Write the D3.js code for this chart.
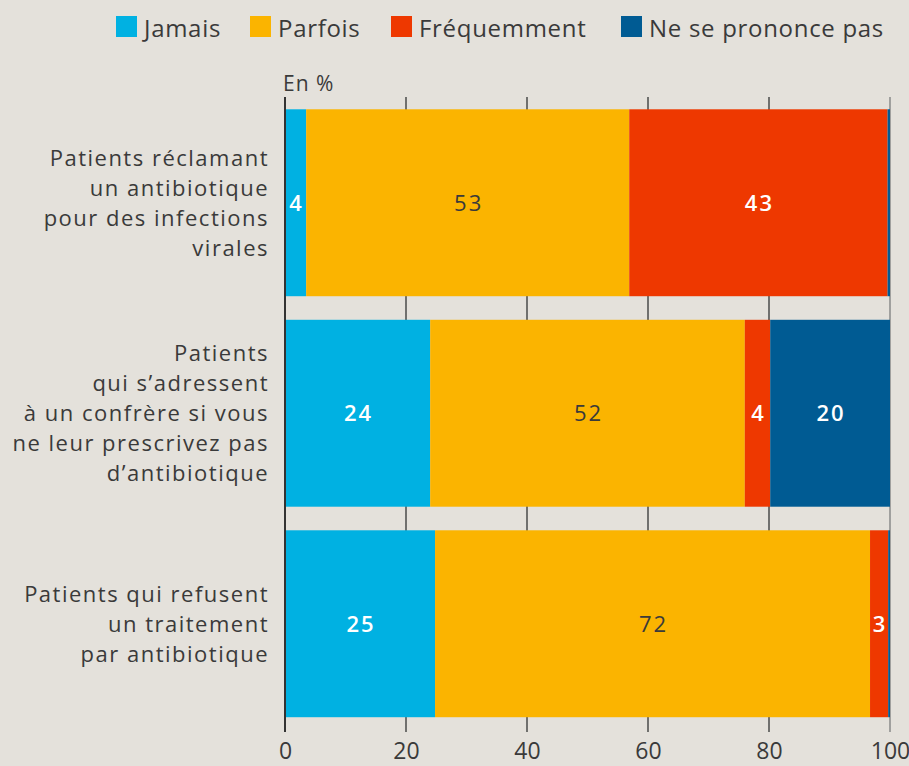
<!DOCTYPE html>
<html lang="fr">
<head>
<meta charset="utf-8">
<script src="https://cdn.jsdelivr.net/npm/d3@7"></script>
<style>
  html, body { margin: 0; padding: 0; background: #e4e1db; }
  svg { display: block; font-family: "Open Sans", "Lato", sans-serif; }
</style>
</head>
<body>
<svg id="chart" width="909" height="766"></svg>
<script>
// Catégories (une ligne par barre, découpées en lignes de texte)
const categories = [
    ["Patients réclamant", "un antibiotique", "pour des infections", "virales"],
    ["Patients", "qui s’adressent", "à un confrère si vous", "ne leur prescrivez pas", "d’antibiotique"],
    ["Patients qui refusent", "un traitement", "par antibiotique"]
];

// Séries (en %)
const seriesNames = ["Jamais", "Parfois", "Fréquemment", "Ne se prononce pas"];
const jamais      = [3.5, 24, 24.8];
const parfois     = [53.4, 52, 71.9];
const frequemment = [42.7, 4.2, 3.0];
const nsp         = [0.4, 19.8, 0.3];

// Étiquettes affichées dans les barres
const valueLabels = [
    ["4", "53", "43", ""],
    ["24", "52", "4", "20"],
    ["25", "72", "3", ""]
];

const xTicks = [0, 20, 40, 60, 80, 100];
const colors = ["#00b1e2", "#fbb400", "#ee3800", "#005b93"];
const labelColors = ["#ffffff", "#3a3a3a", "#ffffff", "#ffffff"];

// Tableau pour d3.stack
const rows = categories.map((c, i) => ({
    idx: i,
    "Jamais": jamais[i],
    "Parfois": parfois[i],
    "Fréquemment": frequemment[i],
    "Ne se prononce pas": nsp[i]
}));

const svg = d3.select("#chart");

const x = d3.scaleLinear().domain([0, 100]).range([285, 890]);
const y = d3.scaleBand()
    .domain(d3.range(categories.length))
    .range([97.5, 729])
    .paddingInner(0.112)
    .paddingOuter(0.056);

const stacked = d3.stack().keys(seriesNames)(rows);

// Lignes de grille (derrière les barres)
svg.append("g")
    .selectAll("line")
    .data(xTicks.slice(1))
    .join("line")
    .attr("x1", d => x(d))
    .attr("x2", d => x(d))
    .attr("y1", 97)
    .attr("y2", 732)
    .attr("stroke", d => d === 100 ? "#8a8a8a" : "#4a4a4a")
    .attr("stroke-width", 1.5);

// Barres empilées
const layers = svg.append("g")
    .selectAll("g")
    .data(stacked)
    .join("g")
    .attr("fill", (d, i) => colors[i]);

layers.selectAll("rect")
    .data(d => d)
    .join("rect")
    .attr("x", d => x(d[0]))
    .attr("y", d => y(d.data.idx))
    .attr("width", d => x(d[1]) - x(d[0]))
    .attr("height", y.bandwidth());

// Valeurs dans les barres
stacked.forEach((layer, s) => {
    svg.append("g")
        .selectAll("text")
        .data(layer)
        .join("text")
        .attr("x", d => (x(d[0]) + x(d[1])) / 2 + 1)
        .attr("y", d => y(d.data.idx) + y.bandwidth() / 2)
        .attr("dy", "0.36em")
        .attr("text-anchor", "middle")
        .attr("fill", labelColors[s])
        .style("font-size", "22px")
        .style("letter-spacing", "2px")
        .style("font-weight", s === 1 ? "400" : "600")
        .text(d => valueLabels[d.data.idx][s]);
});

// Axe du bas
const xAxis = d3.axisBottom(x)
    .tickValues(xTicks)
    .tickSize(0)
    .tickPadding(0);

const axisG = svg.append("g")
    .attr("transform", "translate(0, 759)")
    .call(xAxis);
axisG.select(".domain").remove();
axisG.selectAll("text")
    .attr("dy", "0")
    .attr("fill", "#3a3a3a")
    .style("font-size", "23px")
    .style("font-family", "'Open Sans', Lato, sans-serif");

// Ligne du zéro (au-dessus des barres)
svg.append("line")
    .attr("x1", x(0))
    .attr("x2", x(0))
    .attr("y1", 97)
    .attr("y2", 732)
    .attr("stroke", "#333")
    .attr("stroke-width", 2);

// Libellés des catégories
const catG = svg.append("g")
    .selectAll("text")
    .data(categories)
    .join("text")
    .attr("text-anchor", "end")
    .attr("fill", "#3a3a3a")
    .style("font-size", "22px")
    .style("letter-spacing", "1.5px")
    .attr("transform", (d, i) => {
        const cy = y(i) + y.bandwidth() / 2;
        return `translate(269, ${cy - (d.length - 1) * 15})`;
    });

catG.selectAll("tspan")
    .data(d => d)
    .join("tspan")
    .attr("x", 0)
    .attr("dy", (d, i) => i === 0 ? "0.36em" : "30px")
    .text(d => d);

// Unité
svg.append("text")
    .attr("x", 283)
    .attr("y", 91)
    .attr("fill", "#3a3a3a")
    .style("font-size", "21px")
    .style("letter-spacing", "1px")
    .text("En %");

// Légende
const legendX = [116, 250, 391, 621];
const legend = svg.append("g")
    .selectAll("g")
    .data(seriesNames)
    .join("g")
    .attr("transform", (d, i) => `translate(${legendX[i]}, 16)`);

legend.append("rect")
    .attr("width", 21)
    .attr("height", 21)
    .attr("fill", (d, i) => colors[i]);

legend.append("text")
    .attr("x", 28)
    .attr("y", 21)
    .attr("fill", "#3a3a3a")
    .style("font-size", "24px")
    .style("letter-spacing", "0.7px")
    .text(d => d);
</script>
</body>
</html>
